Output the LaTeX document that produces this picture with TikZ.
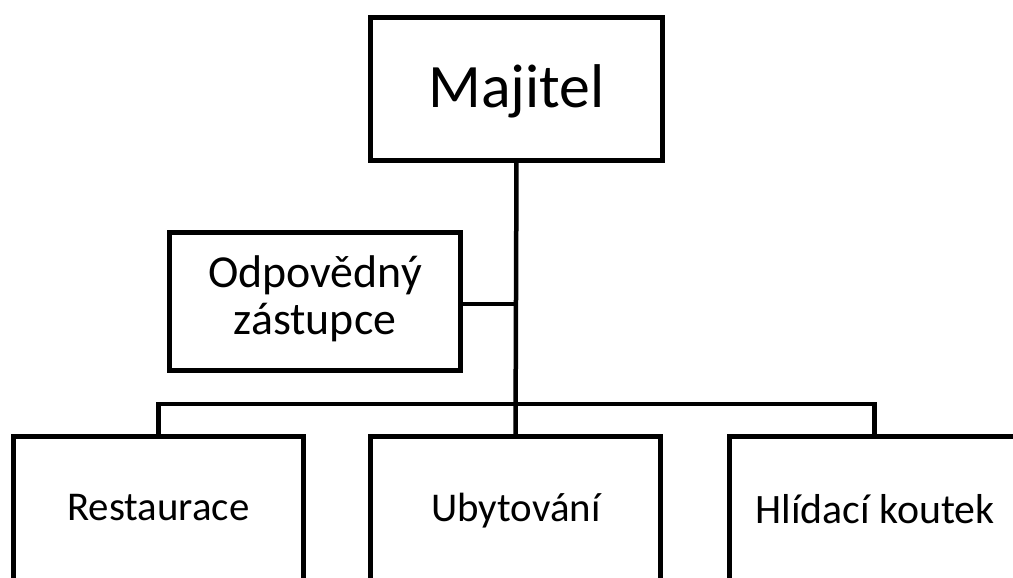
\documentclass[tikz,border=0pt]{standalone}
\usepackage{fontspec}
\setmainfont{Carlito}
\begin{document}
\begin{tikzpicture}[x=1bp,y=-1bp,
  box/.style={draw=black, line width=4.5bp, fill=white, inner sep=0pt, outer sep=0pt,
    minimum width=290bp, minimum height=143bp},
  lbl/.style={inner sep=0pt, anchor=base, align=center},
  conn/.style={draw=black, line width=4.5bp},
  thinconn/.style={draw=black, line width=3.5bp}]
\useasboundingbox (0,0) rectangle (1013,578);
% boxes
\node[box, minimum width=292bp] (maj) at (516.5,89) {};
\node[box, minimum width=291bp, minimum height=138bp] (odp) at (315,301.5) {};
\node[box, minimum height=180bp] (res) at (158.5,526.5) {};
\node[box, minimum height=180bp] (uby) at (515.5,526.5) {};
\node[box, minimum height=180bp] (hli) at (874.5,526.5) {};
% connectors
\coordinate (bar) at (516,404);
\coordinate (odpj) at (516,304);
\draw[conn] (res.north) |- (bar) -| (hli.north);
\draw[conn] (maj.south) -- (uby.north);
\draw[thinconn] (odp.east |- odpj) -- (odpj);
% texts
\node[lbl, font=\fontsize{62}{62}\selectfont] (majt) at (516.5,108) {Majitel};
\node[lbl, font=\fontsize{46}{47}\selectfont] (odpt) at (315,334) {Odpovědný\\zástupce};
\node[lbl, font=\fontsize{41}{41}\selectfont] (rest) at (158.5,520) {Restaurace};
\node[lbl, font=\fontsize{41}{41}\selectfont] (ubyt) at (516,521) {Ubytování};
\node[lbl, font=\fontsize{42}{42}\selectfont] (hlit) at (875,523) {Hlídací koutek};
\end{tikzpicture}
\end{document}
